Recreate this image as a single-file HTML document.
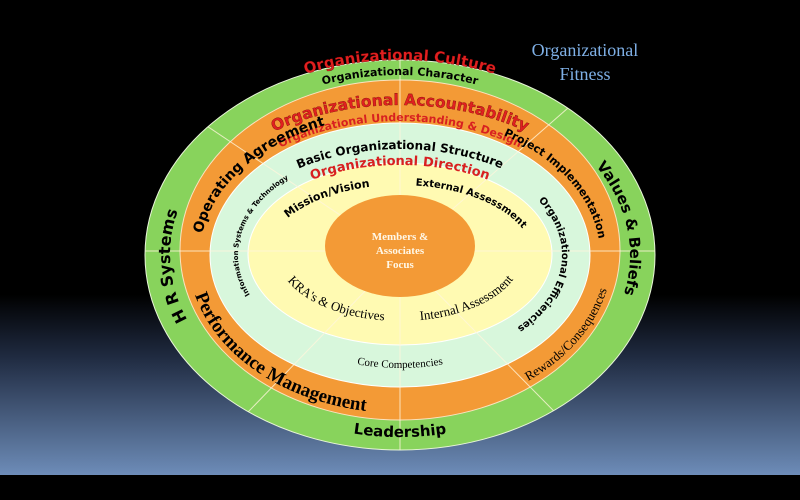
<!DOCTYPE html>
<html><head><meta charset="utf-8"><style>
html,body{margin:0;padding:0;width:800px;height:500px;overflow:hidden;background:#000}
svg{display:block}
.b{font-family:"DejaVu Sans","Liberation Sans",sans-serif;font-weight:bold}
.s{font-family:"Liberation Serif",serif}
</style></head><body>
<svg width="800" height="500" viewBox="0 0 800 500" xmlns="http://www.w3.org/2000/svg">
<defs>
<linearGradient id="bg" x1="0" y1="0" x2="0" y2="1">
<stop offset="0" stop-color="#000"/>
<stop offset="0.62" stop-color="#000"/>
<stop offset="0.75" stop-color="#1f2a40"/>
<stop offset="1" stop-color="#6d8cb8"/>
</linearGradient>
<clipPath id="cl"><ellipse cx="400" cy="255" rx="255" ry="195"/></clipPath>
<path id="pCul" d="M145 255 A255 195 0 0 1 655 255"/>
<path id="pChar" d="M162 255 A238 180 0 0 1 638 255"/>
<path id="pAcc" d="M178 255 A222 150 0 0 1 622 255"/>
<path id="pUnd" d="M200 255 A200 134 0 0 1 600 255"/>
<path id="pBas" d="M225 255 A175 106 0 0 1 575 255"/>
<path id="pDir" d="M240 255 A160 90 0 0 1 560 255"/>
<path id="pOrT" d="M200 255 A200 140 0 0 1 600 255"/>
<path id="pG" d="M400 425 A230 170 0 0 1 170 255 A230 170 0 0 1 630 255 A230 170 0 0 1 400 425"/>
<path id="pLead" d="M160 255 A240 182 0 0 0 640 255"/>
<path id="pCore" d="M230 255 A170 113 0 0 0 570 255"/>
<path id="pOrB" d="M188 255 A212 158 0 0 0 612 255"/>
<path id="pM" d="M400 360 A162 105 0 0 1 238 255 A162 105 0 0 1 562 255 A162 105 0 0 1 400 360"/>
<path id="pYT" d="M268 255 A132 70 0 0 1 532 255"/>
<path id="pYB" d="M278 255 A122 66 0 0 0 522 255"/>
</defs>
<rect width="800" height="475" fill="url(#bg)"/>
<rect y="475" width="800" height="25" fill="#000"/>

<ellipse cx="400" cy="255" rx="255" ry="195" fill="#88d35c" stroke="#e8f5d8" stroke-width="1"/>
<ellipse cx="400" cy="250" rx="220" ry="170" fill="#f39a36" stroke="#fbe3c0" stroke-width="1"/>
<ellipse cx="400" cy="255" rx="190" ry="132" fill="#d8f7dc" stroke="#fff" stroke-width="1"/>
<ellipse cx="400" cy="254" rx="152" ry="91" fill="#fffab2" stroke="#fff" stroke-width="1"/>
<g clip-path="url(#cl)" stroke="#fff6dc" stroke-width="1" opacity="0.8">
<line x1="400" y1="40" x2="400" y2="470"/>
<line x1="130" y1="251" x2="670" y2="251"/>
<line x1="400" y1="255" x2="108" y2="60"/>
<line x1="400" y1="255" x2="640" y2="45"/>
<line x1="400" y1="255" x2="190" y2="472"/>
<line x1="400" y1="255" x2="610" y2="468"/>
</g>
<ellipse cx="400" cy="246" rx="75" ry="51" fill="#f39a36"/>
<text class="s" fill="#fff8e8" font-size="11" font-weight="bold" text-anchor="middle"><tspan x="400" y="240">Members &amp;</tspan><tspan x="400" y="254">Associates</tspan><tspan x="400" y="268">Focus</tspan></text>

<text class="s" fill="#7fb0e6" font-size="18" text-anchor="middle"><tspan x="585" y="56">Organizational</tspan><tspan x="585" y="80">Fitness</tspan></text>

<text class="b" font-size="15" fill="#e02020" stroke="#600" stroke-width="0.3"><textPath href="#pCul" startOffset="50%" text-anchor="middle">Organizational Culture</textPath></text>
<text class="b" font-size="11" fill="#000"><textPath href="#pChar" startOffset="50%" text-anchor="middle">Organizational Character</textPath></text>
<text class="b" font-size="15.5" fill="#e02020" stroke="#600" stroke-width="0.3"><textPath href="#pAcc" startOffset="50%" text-anchor="middle">Organizational Accountability</textPath></text>
<text class="b" font-size="11" fill="#d82020"><textPath href="#pUnd" startOffset="50%" text-anchor="middle">Organizational Understanding &amp; Design</textPath></text>
<text class="b" font-size="12" fill="#000"><textPath href="#pBas" startOffset="50%" text-anchor="middle">Basic Organizational Structure</textPath></text>
<text class="b" font-size="13" fill="#d82020"><textPath href="#pDir" startOffset="50%" text-anchor="middle">Organizational Direction</textPath></text>

<text class="b" font-size="14" fill="#000"><textPath href="#pOrT" startOffset="4%">Operating Agreement</textPath></text>
<text class="b" font-size="11" fill="#000"><textPath href="#pOrT" startOffset="97%" text-anchor="end">Project Implementation</textPath></text>

<text class="b" font-size="16" fill="#000"><textPath href="#pG" startOffset="248">H R Systems</textPath></text>
<text class="b" font-size="15" fill="#000"><textPath href="#pG" startOffset="850">Values &amp; Beliefs</textPath></text>
<text class="b" font-size="15" fill="#000"><textPath href="#pLead" startOffset="50%" text-anchor="middle">Leadership</textPath></text>

<text class="b" font-size="7" fill="#000"><textPath href="#pM" startOffset="170">Information Systems &amp; Technology</textPath></text>
<text class="b" font-size="10" fill="#000"><textPath href="#pM" startOffset="575">Organizational Efficiencies</textPath></text>

<text class="b" font-size="11" fill="#000"><textPath href="#pYT" startOffset="27%" text-anchor="middle">Mission/Vision</textPath></text>
<text class="b" font-size="10" fill="#000"><textPath href="#pYT" startOffset="73%" text-anchor="middle">External Assessment</textPath></text>
<text class="s" font-size="13" fill="#000"><textPath href="#pYB" startOffset="27%" text-anchor="middle">KRA's &amp; Objectives</textPath></text>
<text class="s" font-size="13" fill="#000"><textPath href="#pYB" startOffset="74%" text-anchor="middle">Internal Assessment</textPath></text>
<text class="s" font-size="11" fill="#000"><textPath href="#pCore" startOffset="50%" text-anchor="middle">Core Competencies</textPath></text>
<text class="s" font-size="19" font-weight="bold" fill="#000"><textPath href="#pOrB" startOffset="7%">Performance Management</textPath></text>
<text class="s" font-size="13" fill="#000"><textPath href="#pOrB" startOffset="94%" text-anchor="end">Rewards/Consequences</textPath></text>
</svg>
</body></html>
